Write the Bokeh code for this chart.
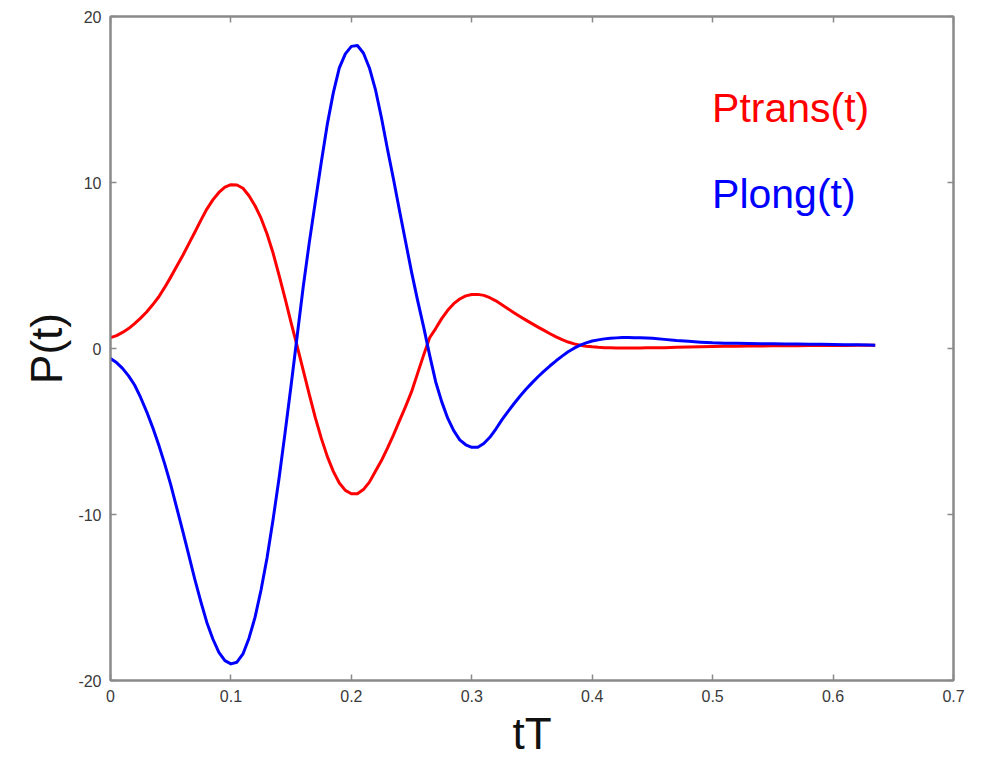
from bokeh.plotting import figure
from bokeh.models import LinearAxis, FixedTicker, Label, Range1d
from bokeh.embed import file_html
from bokeh.resources import INLINE

# ---- data ----
t = [0.000, 0.005, 0.010, 0.015, 0.020, 0.025, 0.030, 0.035, 0.040, 0.045,
     0.050, 0.055, 0.060, 0.065, 0.070, 0.075, 0.080, 0.085, 0.090, 0.095,
     0.100, 0.105, 0.110, 0.115, 0.120, 0.125, 0.130, 0.135, 0.140, 0.145,
     0.150, 0.155, 0.160, 0.165, 0.170, 0.175, 0.180, 0.185, 0.190, 0.195,
     0.200, 0.205, 0.210, 0.215, 0.220, 0.225, 0.230, 0.235, 0.240, 0.245,
     0.250, 0.255, 0.260, 0.265, 0.270, 0.275, 0.280, 0.285, 0.290, 0.295,
     0.300, 0.305, 0.310, 0.315, 0.320, 0.325, 0.330, 0.335, 0.340, 0.345,
     0.350, 0.355, 0.360, 0.365, 0.370, 0.375, 0.380, 0.385, 0.390, 0.395,
     0.400, 0.405, 0.410, 0.415, 0.420, 0.425, 0.430, 0.435, 0.440, 0.445,
     0.450, 0.460, 0.470, 0.480, 0.490, 0.500, 0.510, 0.520, 0.530, 0.540,
     0.550, 0.560, 0.570, 0.580, 0.590, 0.600, 0.610, 0.620, 0.630, 0.635]

p_trans = [0.65, 0.78, 0.97, 1.2, 1.5, 1.83, 2.2, 2.63, 3.1, 3.68,
           4.3, 4.95, 5.6, 6.3, 7.0, 7.72, 8.4, 8.95, 9.4, 9.72,
           9.87, 9.85, 9.65, 9.2, 8.6, 7.85, 6.9, 5.75, 4.4, 3.0,
           1.55, 0.15, -1.3, -2.75, -4.15, -5.4, -6.5, -7.4, -8.1, -8.55,
           -8.75, -8.75, -8.5, -8.05, -7.4, -6.75, -6.0, -5.2, -4.35, -3.5,
           -2.6, -1.5, -0.4, 0.65, 1.2, 1.8, 2.3, 2.7, 2.98, 3.17,
           3.25, 3.26, 3.2, 3.06, 2.87, 2.64, 2.4, 2.16, 1.93, 1.71,
           1.5, 1.29, 1.09, 0.89, 0.7, 0.53, 0.39, 0.28, 0.2, 0.14,
           0.1, 0.07, 0.05, 0.04, 0.03, 0.03, 0.03, 0.03, 0.035, 0.04,
           0.04, 0.05, 0.07, 0.085, 0.1, 0.12, 0.13, 0.14, 0.15, 0.155,
           0.16, 0.165, 0.17, 0.175, 0.18, 0.18, 0.185, 0.19, 0.195, 0.2]

p_long = [-0.6, -0.85, -1.2, -1.65, -2.2, -2.95, -3.8, -4.75, -5.8, -6.95,
          -8.2, -9.6, -11.0, -12.45, -13.9, -15.25, -16.5, -17.5, -18.3, -18.8,
          -19.0, -18.9, -18.4, -17.45, -16.2, -14.55, -12.6, -10.3, -7.8, -5.05,
          -2.2, 0.75, 3.7, 6.35, 8.8, 11.2, 13.5, 15.4, 16.9, 17.75,
          18.2, 18.25, 17.8, 16.9, 15.6, 13.9, 12.0, 10.2, 8.3, 6.45,
          4.6, 2.9, 1.3, -0.4, -2.0, -3.2, -4.2, -4.95, -5.5, -5.8,
          -5.95, -5.95, -5.72, -5.35, -4.85, -4.3, -3.8, -3.33, -2.88, -2.46,
          -2.07, -1.7, -1.36, -1.04, -0.74, -0.46, -0.2, 0.02, 0.2, 0.34,
          0.45, 0.52, 0.58, 0.62, 0.64, 0.66, 0.66, 0.655, 0.65, 0.635,
          0.62, 0.55, 0.48, 0.43, 0.38, 0.34, 0.32, 0.31, 0.3, 0.29,
          0.28, 0.27, 0.265, 0.26, 0.25, 0.24, 0.23, 0.22, 0.21, 0.2]

x_ticks = [0, 0.1, 0.2, 0.3, 0.4, 0.5, 0.6, 0.7]
x_tick_labels = ["0", "0.1", "0.2", "0.3", "0.4", "0.5", "0.6", "0.7"]
y_ticks = [-20, -10, 0, 10, 20]
y_tick_labels = ["-20", "-10", "0", "10", "20"]

series_names = ["Ptrans(t)", "Plong(t)"]
series_colors = ["#ff0000", "#0000ff"]

FONT = "Liberation Sans"
FRAME = "#8a8a8a"

p = figure(width=990, height=761, output_backend="svg", toolbar_location=None,
           x_range=Range1d(0, 0.7), y_range=Range1d(-20, 20),
           min_border_left=110, min_border_right=37,
           min_border_top=16, min_border_bottom=81,
           x_axis_label="tT", y_axis_label="P(t)")
p.grid.visible = False
p.outline_line_color = FRAME
p.outline_line_width = 2
p.background_fill_color = "white"
p.border_fill_color = "white"

p.line(t, p_trans, line_color=series_colors[0], line_width=3, line_join="round")
p.line(t, p_long, line_color=series_colors[1], line_width=3, line_join="round")

def style_axis(ax, ticks, labels, show_labels=True):
    ax.ticker = FixedTicker(ticks=ticks)
    if show_labels:
        ax.major_label_overrides = {tv: lb for tv, lb in zip(ticks, labels)}
        ax.major_label_text_font_size = "16px"
    else:
        ax.major_label_overrides = {tv: "" for tv in ticks}
        ax.major_label_text_font_size = "1px"
    ax.axis_line_color = FRAME
    ax.axis_line_width = 2
    ax.major_tick_line_color = FRAME
    ax.major_tick_line_width = 1.5
    ax.major_tick_in = 6
    ax.major_tick_out = 0
    ax.minor_tick_line_color = None
    ax.major_label_text_font = FONT
    ax.major_label_text_color = "#3a3a3a"
    ax.major_label_standoff = 9

for ax in p.xaxis:
    style_axis(ax, x_ticks, x_tick_labels)
for ax in p.yaxis:
    style_axis(ax, y_ticks, y_tick_labels)

p.xaxis.axis_label_text_font = FONT
p.xaxis.axis_label_text_font_size = "44px"
p.xaxis.axis_label_text_font_style = "normal"
p.xaxis.axis_label_text_color = "#111111"
p.xaxis.axis_label_standoff = 4
p.yaxis.axis_label_text_font = FONT
p.yaxis.axis_label_text_font_size = "44px"
p.yaxis.axis_label_text_font_style = "normal"
p.yaxis.axis_label_text_color = "#111111"
p.yaxis.axis_label_standoff = 4

top_ax = LinearAxis()
style_axis(top_ax, x_ticks, x_tick_labels, show_labels=False)
top_ax.major_label_standoff = 0
p.add_layout(top_ax, "above")
right_ax = LinearAxis()
style_axis(right_ax, y_ticks, y_tick_labels, show_labels=False)
right_ax.major_label_standoff = 0
p.add_layout(right_ax, "right")

label_y = [14.5, 9.3]
for name, col, yy in zip(series_names, series_colors, label_y):
    p.add_layout(Label(x=0.4995, y=yy, text=name, text_color=col,
                       text_font=FONT, text_font_size="41px",
                       text_baseline="middle", text_align="left"))

open("out.html", "w").write(file_html(p, INLINE))
